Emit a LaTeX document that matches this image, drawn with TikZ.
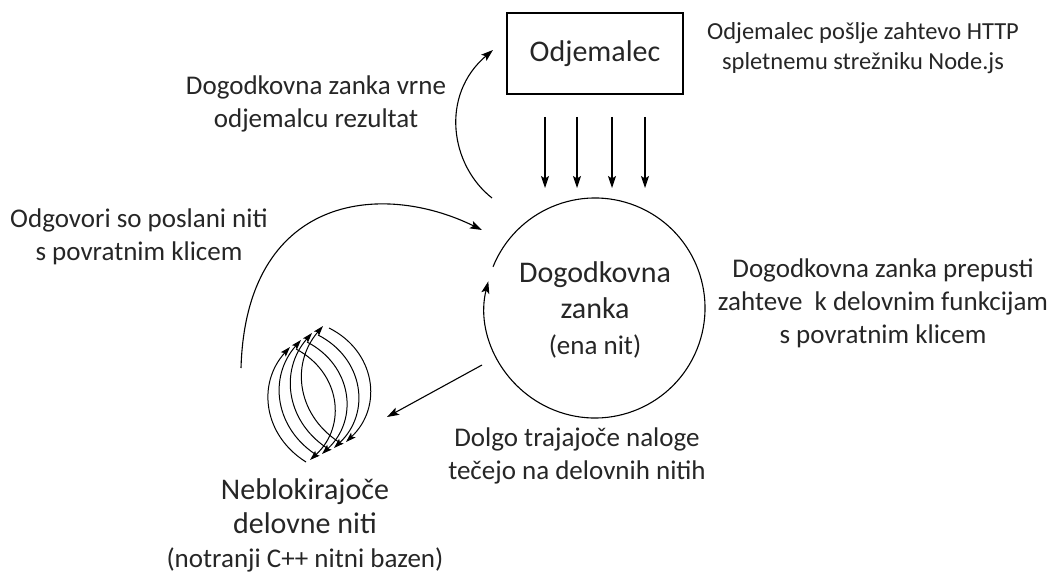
\documentclass[tikz,border=0pt]{standalone}
\usepackage{fontspec}
\setmainfont{Carlito}
\usetikzlibrary{arrows.meta}

\begin{document}
\begin{tikzpicture}[x=1pt, y=1pt,
	arr/.style={-{Stealth[length=12pt,width=8pt,inset=2.5pt]}, line width=1.1pt},
	thr/.style={-{Stealth[length=10pt,width=6.5pt,inset=2pt]}, line width=1pt},
	txt/.style={align=center, inner sep=0pt, text=black!85, font=\fontsize{27}{33}\selectfont},
	big/.style={align=center, inner sep=0pt, text=black!85, font=\fontsize{30}{36}\selectfont}]
	\useasboundingbox (0,0) rectangle (1059,576);

	% client and event loop
	\node[big, draw=black, line width=1.1pt, minimum width=176, minimum height=81] (client) at (595,522.5) {Odjemalec};
	\node[big] (loop) at (595,266) {Dogodkovna\\zanka\\{\fontsize{27}{33}\selectfont(ena nit)}};
	\coordinate (loopc) at (595,268);
	\draw[arr] (loopc) ++(158:110) arc[start angle=158, end angle=-194, radius=110];

	% requests from the client
	\foreach \x in {545,577,612,645} {
		\coordinate (req\x) at (\x,459);
		\draw[arr] (req\x) -- ++(0,-71);
	}

	% worker threads
	\foreach \i in {0,...,3} {
		\coordinate (bot\i) at ({310+12*\i},{116+6*\i});
		\coordinate (top\i) at ({290+11*\i},{229+7*\i});
		\draw[thr] ([shift={(-4,-2)}]bot\i) to[bend left=50, looseness=1.1] (top\i);
		\draw[thr] ([shift={(6,-2)}]top\i) to[bend left=55, looseness=1.15] (bot\i);
	}

	% connectors
	\coordinate (taskfrom) at (482,211);
	\coordinate (taskto) at (387,159);
	\draw[arr] (taskfrom) -- (taskto);

	\coordinate (replyfrom) at (241,208);
	\coordinate (replyto) at (482,346);
	\draw[arr] (replyfrom) .. controls (246,380) and (380,396) .. (replyto);

	\coordinate (retfrom) at (492,378);
	\coordinate (retto) at (493,526);
	\draw[arr] (retfrom) .. controls (450,411) and (440,481) .. (retto);

	% labels
	\node[txt, font=\fontsize{24.5}{30}\selectfont] (reqtxt) at (863,528) {Odjemalec pošlje zahtevo HTTP\\spletnemu strežniku Node.js};
	\node[txt] (rettxt) at (316,472) {Dogodkovna zanka vrne\\odjemalcu rezultat};
	\node[txt] (replytxt) at (139,339) {Odgovori so poslani niti\\s povratnim klicem};
	\node[txt] (passtxt) at (883,273) {Dogodkovna zanka prepusti\\zahteve~ k delovnim funkcijam\\s povratnim klicem};
	\node[txt] (tasktxt) at (577,120) {Dolgo trajajoče naloge\\tečejo na delovnih nitih};
	\node[big, font=\fontsize{30}{34}\selectfont] (workers) at (305,51) {Neblokirajoče\\delovne niti\\{\fontsize{27}{32}\selectfont(notranji C++ nitni bazen)}};
\end{tikzpicture}
\end{document}
